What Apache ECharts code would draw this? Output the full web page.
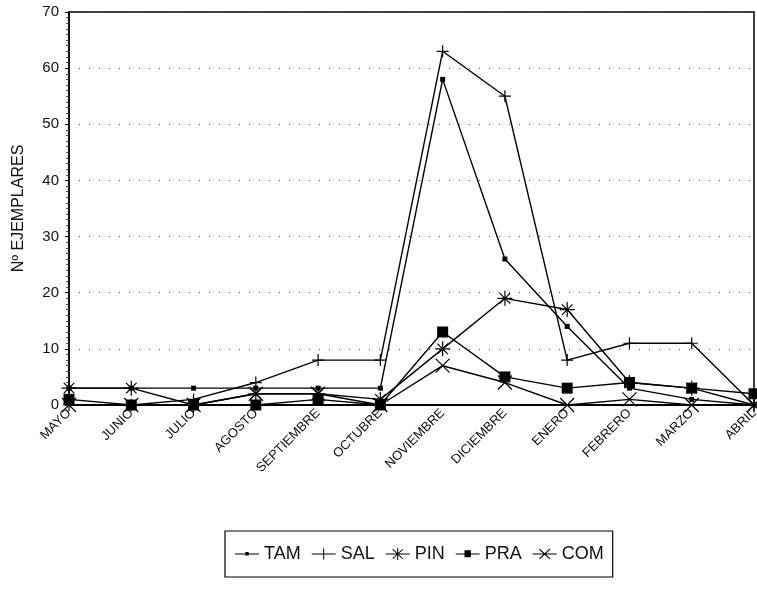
<!DOCTYPE html>
<html>
<head>
<meta charset="utf-8">
<script src="https://cdn.jsdelivr.net/npm/echarts@6/dist/echarts.min.js"></script>
<style>html,body{margin:0;padding:0;background:#fff}#c{width:757px;height:592px}</style>
</head>
<body>
<div id="c"></div>
<script>
var months = ['MAYO','JUNIO','JULIO','AGOSTO','SEPTIEMBRE','OCTUBRE','NOVIEMBRE','DICIEMBRE','ENERO','FEBRERO','MARZO','ABRIL'];
var TAM = [3, 3, 3, 3, 3, 3, 58, 26, 14, 3, 1, 0];
var SAL = [0, 0, 1, 4, 8, 8, 63, 55, 8, 11, 11, 0];
var PIN = [3, 3, 0, 2, 2, 1, 10, 19, 17, 4, 3, 0];
var PRA = [1, 0, 0, 0, 1, 0, 13, 5, 3, 4, 3, 2];
var COM = [0, 0, 0, 2, 2, 0, 7, 4, 0, 1, 0, 0];
var yTicks = [0, 10, 20, 30, 40, 50, 60, 70];
var names = ['TAM', 'SAL', 'PIN', 'PRA', 'COM'];

var plus = 'path://M0,5L10,5M5,0L5,10';
var cross = 'path://M0,0L10,10M0,10L10,0';
var star = 'path://M0,5L10,5M5,0L5,10M1.5,1.5L8.5,8.5M1.5,8.5L8.5,1.5';

// legend icons (filled paths, 24x12 box)
var base = 'M0,0L0.01,0L0.01,0.01Z M24,12L23.99,12L23.99,11.99Z M0,5.4L24,5.4L24,6.6L0,6.6Z ';
var icons = {
  TAM: base + 'M10.3,4L13.7,4L13.7,7.6L10.3,7.6Z',
  SAL: base + 'M11.5,0.5L12.5,0.5L12.5,11.5L11.5,11.5Z',
  PIN: base + 'M11.5,0L12.5,0L12.5,12L11.5,12Z M6.6,1.6L7.4,0.9L17.4,10.4L16.6,11.1Z M6.6,10.4L16.6,0.9L17.4,1.6L7.4,11.1Z',
  PRA: base + 'M8.8,2.3L15.2,2.3L15.2,9.3L8.8,9.3Z',
  COM: base + 'M6.4,1.4L7.2,0.7L17.6,10.6L16.8,11.3Z M6.4,10.6L16.8,0.7L17.6,1.4L7.2,11.3Z'
};

function mk(name, data, symbol, size, filled) {
  return {
    name: name, type: 'line', data: data, symbol: symbol, symbolSize: size,
    showAllSymbol: true, animation: false,
    lineStyle: {color: '#000', width: 1.4},
    itemStyle: filled ? {color: '#000', borderColor: '#000', borderWidth: 0}
                      : {color: 'rgba(0,0,0,0)', borderColor: '#000', borderWidth: 1.2}
  };
}

var chart = echarts.init(document.getElementById('c'));
chart.setOption({
  animation: false,
  grid: {left: 69, right: 3, top: 12, bottom: 187, show: true, borderColor: '#000', borderWidth: 1.5,
         containLabel: false, outerBoundsMode: 'none'},
  xAxis: {
    type: 'category', data: months, boundaryGap: false,
    axisLine: {lineStyle: {color: '#000', width: 2}},
    axisTick: {show: false},
    axisLabel: {rotate: 45, color: '#111', fontFamily: 'Arial, Liberation Sans', fontSize: 13, margin: 6, interval: 0}
  },
  yAxis: {
    type: 'value', min: 0, max: 70, interval: 10,
    name: 'Nº EJEMPLARES', nameLocation: 'middle', nameRotate: 90, nameGap: 42,
    nameTextStyle: {color: '#111', fontFamily: 'Arial, Liberation Sans', fontSize: 16},
    axisLine: {show: true, lineStyle: {color: '#000', width: 1.5}},
    axisTick: {show: true, length: 4, lineStyle: {color: '#000'}},
    minorTick: {show: true, splitNumber: 10, length: 3, lineStyle: {color: '#444'}},
    axisLabel: {color: '#111', fontFamily: 'Arial, Liberation Sans', fontSize: 15, margin: 10,
      formatter: function (v) { return yTicks.indexOf(v) >= 0 ? String(v) : ''; }},
    splitLine: {show: true, lineStyle: {color: '#555', width: 1, type: [1, 9]}}
  },
  legend: {
    left: 225, top: 531, orient: 'horizontal',
    borderColor: '#000', borderWidth: 1.2, padding: [14, 9, 14, 10],
    itemWidth: 24, itemHeight: 12, itemGap: 11,
    textStyle: {color: '#111', fontFamily: 'Arial, Liberation Sans', fontSize: 18},
    data: names.map(function (n) {
      return {name: n, icon: 'path://' + icons[n], itemStyle: {color: '#000', borderWidth: 0}};
    })
  },
  series: [
    mk('TAM', TAM, 'rect', 5, true),
    mk('SAL', SAL, plus, 12, false),
    mk('PIN', PIN, star, 15, false),
    mk('PRA', PRA, 'rect', 11, true),
    mk('COM', COM, cross, 14, false)
  ]
});
</script>
</body>
</html>
